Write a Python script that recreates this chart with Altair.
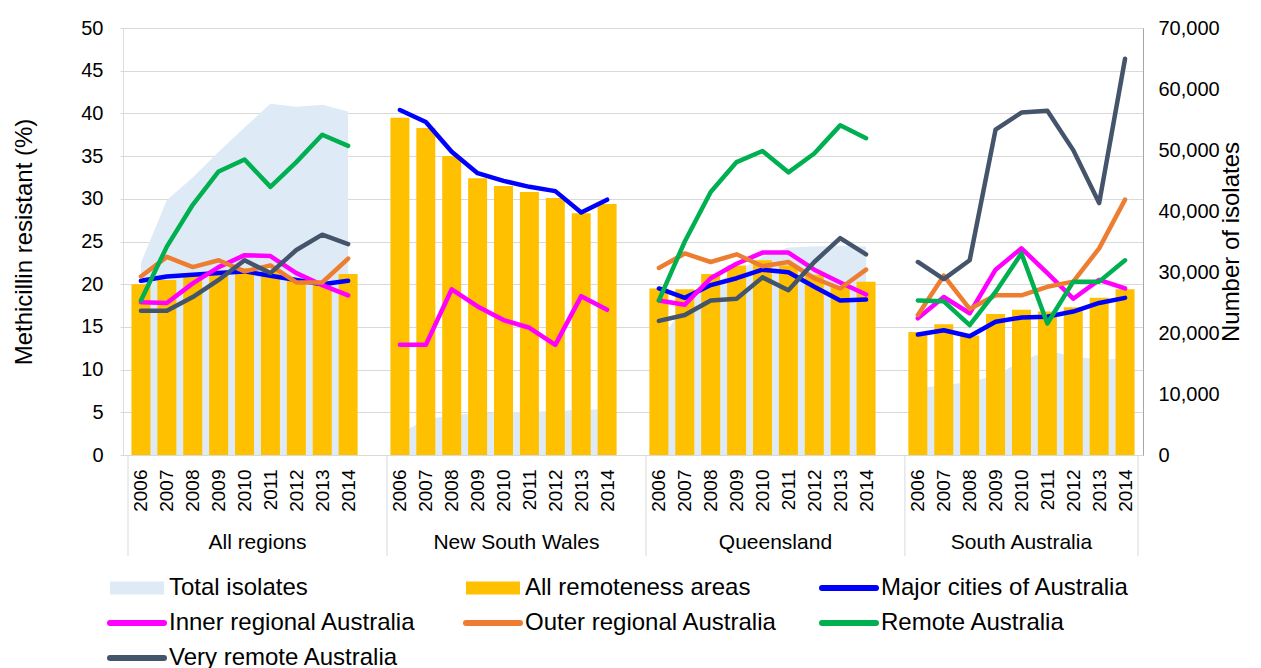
import altair as alt
import pandas as pd

groups = ["All regions", "New South Wales", "Queensland", "South Australia"]
years = [2006, 2007, 2008, 2009, 2010, 2011, 2012, 2013, 2014]

# Total isolates (right axis, number)
total_all = [31500, 41800, 45500, 49700, 53700, 57600, 57100, 57400, 56300]
total_nsw = [3500, 5800, 6500, 6900, 7000, 7100, 7200, 7400, 7500]
total_qld = [18500, 24500, 28000, 30000, 32500, 34000, 34200, 34300, 34200]
total_sa = [11000, 11400, 12000, 13000, 15400, 17100, 16200, 15600, 15800]

# All remoteness areas (bars, %)
allrem_all = [20.0, 20.5, 21.0, 21.6, 21.9, 21.6, 20.6, 19.9, 21.2]
allrem_nsw = [39.5, 38.3, 35.0, 32.4, 31.5, 30.8, 30.1, 28.3, 29.4]
allrem_qld = [19.5, 19.4, 21.2, 22.2, 22.8, 22.2, 21.1, 19.8, 20.3]
allrem_sa = [14.4, 15.3, 14.0, 16.5, 17.0, 16.8, 17.3, 18.4, 19.4]

# Major cities of Australia (%)
major_all = [20.4, 20.9, 21.1, 21.3, 21.5, 21.0, 20.5, 20.0, 20.4]
major_nsw = [40.4, 39.0, 35.5, 33.0, 32.1, 31.4, 30.9, 28.4, 29.9]
major_qld = [19.5, 18.4, 19.9, 20.7, 21.7, 21.4, 19.7, 18.1, 18.2]
major_sa = [14.1, 14.6, 13.9, 15.6, 16.1, 16.2, 16.8, 17.8, 18.4]

# Inner regional Australia (%)
inner_all = [17.9, 17.8, 20.1, 22.0, 23.4, 23.3, 21.3, 19.9, 18.7]
inner_nsw = [12.9, 12.9, 19.4, 17.4, 15.8, 14.9, 12.9, 18.6, 17.0]
inner_qld = [18.1, 17.6, 20.7, 22.4, 23.7, 23.7, 21.7, 20.2, 18.8]
inner_sa = [16.0, 18.5, 16.6, 21.7, 24.2, 21.3, 18.3, 20.5, 19.5]

# Outer regional Australia (%)
outer_all = [20.9, 23.2, 22.0, 22.8, 21.5, 22.2, 20.2, 20.2, 23.0]
outer_qld = [21.9, 23.6, 22.6, 23.5, 22.1, 22.6, 20.7, 19.5, 21.7]
outer_sa = [16.4, 21.0, 17.1, 18.7, 18.7, 19.7, 20.3, 24.2, 29.9]

# Remote Australia (%)
remote_all = [18.1, 24.4, 29.3, 33.2, 34.6, 31.4, 34.3, 37.5, 36.2]
remote_qld = [18.1, 25.0, 30.8, 34.3, 35.6, 33.1, 35.3, 38.6, 37.1]
remote_sa = [18.1, 18.0, 15.2, 19.1, 23.6, 15.4, 20.3, 20.3, 22.8]

# Very remote Australia (%)
vremote_all = [16.9, 16.9, 18.5, 20.5, 22.8, 21.3, 24.0, 25.8, 24.7]
vremote_qld = [15.7, 16.4, 18.1, 18.3, 20.8, 19.3, 22.6, 25.4, 23.5]
vremote_sa = [22.6, 20.6, 22.8, 38.1, 40.1, 40.3, 35.7, 29.5, 46.4]

series_names = ["Total isolates", "All remoteness areas", "Major cities of Australia",
                "Inner regional Australia", "Outer regional Australia",
                "Remote Australia", "Very remote Australia"]
series_colors = ["#DEEBF7", "#FFC000", "#0000FF", "#FF00FF", "#ED7D31", "#00B050", "#44546A"]
series_kinds = ["area", "bar", "line", "line", "line", "line", "line"]

series_lists = {
    "Total isolates": [total_all, total_nsw, total_qld, total_sa],
    "All remoteness areas": [allrem_all, allrem_nsw, allrem_qld, allrem_sa],
    "Major cities of Australia": [major_all, major_nsw, major_qld, major_sa],
    "Inner regional Australia": [inner_all, inner_nsw, inner_qld, inner_sa],
    "Outer regional Australia": [outer_all, None, outer_qld, outer_sa],
    "Remote Australia": [remote_all, None, remote_qld, remote_sa],
    "Very remote Australia": [vremote_all, None, vremote_qld, vremote_sa],
}

n = len(years)
step = n + 1
rows = []
for s in series_names:
    for gi, vals in enumerate(series_lists[s]):
        if vals is None:
            continue
        for yi, (yr, v) in enumerate(zip(years, vals)):
            rows.append({"series": s, "group": groups[gi], "year": yr,
                         "slot": gi * step + yi, "value": v})
df = pd.DataFrame(rows)

# group label centres and dividers (from the group structure)
starts = [gi * step - 0.5 for gi in range(len(groups))]
ends = [gi * step + n - 0.5 + (1 if gi < len(groups) - 1 else 0) for gi in range(len(groups))]
grp_df = pd.DataFrame({"group": groups, "slot": [(a + b) / 2 for a, b in zip(starts, ends)]})
div_df = pd.DataFrame({"slot": starts + [ends[-1]]})

W, H = 1020, 427
FONT = "Liberation Sans"
xmax = ends[-1]
year_slots = sorted(df["slot"].unique().tolist())
labels_js = "[" + ",".join("'%d'" % y for y in years) + "]"

xscale = alt.Scale(domain=[-0.5, xmax], nice=False, zero=False)
xaxis = alt.Axis(values=year_slots, labelExpr=f"{labels_js}[datum.value % {step}]",
                 labelAngle=270, labelFontSize=19, labelPadding=14, tickSize=0,
                 domainColor="#D9D9D9", grid=False, title=None, labelOverlap=False,
                 labelFlush=False, labelBound=False, labelColor="#000000", labelFont=FONT)
X = alt.X("slot:Q", scale=xscale, axis=xaxis)

yl_scale = alt.Scale(domain=[0, 50], nice=False)
yl_axis = alt.Axis(orient="left", values=list(range(0, 51, 5)), title="Methicillin resistant (%)",
                   titleFontSize=24, titleFontWeight="normal", titleFont=FONT, titleColor="#000000",
                   titlePadding=44, labelFontSize=20, labelFont=FONT, labelColor="#000000",
                   labelPadding=17, tickSize=3, tickColor="#D9D9D9", domain=False,
                   grid=True, gridColor="#D9D9D9", gridWidth=1)
yr_scale = alt.Scale(domain=[0, 70000], nice=False)
yr_axis = alt.Axis(orient="right", values=list(range(0, 70001, 10000)), format=",.0f",
                   title="Number of isolates", titleAngle=270, titleBaseline="top",
                   titleFontSize=24, titleFontWeight="normal", titleFont=FONT,
                   titleColor="#000000", titlePadding=0, labelFontSize=20, labelFont=FONT,
                   labelColor="#000000", labelPadding=15, tickSize=0, grid=False,
                   domainColor="#A6A6A6")

base = alt.Chart(df)

area = base.transform_filter(alt.datum.series == "Total isolates").mark_area(
    color=series_colors[0], opacity=1).encode(
    x=X, y=alt.Y("value:Q", scale=yr_scale, axis=yr_axis, stack=None), detail="group:N")

bars = base.transform_filter(alt.datum.series == "All remoteness areas").mark_bar(
    size=19, color=series_colors[1]).encode(
    x=X, y=alt.Y("value:Q", scale=yl_scale, axis=yl_axis))

line_layers = []
for name, color, kind in zip(series_names, series_colors, series_kinds):
    if kind != "line":
        continue
    line_layers.append(
        base.transform_filter(alt.datum.series == name).mark_line(
            color=color, strokeWidth=4.5, strokeJoin="round", strokeCap="round").encode(
            x=X, y=alt.Y("value:Q", scale=yl_scale, axis=yl_axis), detail="group:N"))

dividers = alt.Chart(div_df).mark_rule(color="#D9D9D9", strokeWidth=1).encode(
    x=X, y=alt.value(H), y2=alt.value(H + 101))
glabels = alt.Chart(grp_df).mark_text(fontSize=21, font=FONT, color="#000000",
                                      baseline="middle", align="center").encode(
    x=X, y=alt.value(H + 88), text="group:N")

pct = alt.layer(bars, *line_layers, dividers, glabels)
main = alt.layer(area, pct).resolve_scale(y="independent").properties(width=W, height=H)

# legend (3 columns)
COLW = 356
leg_df = pd.DataFrame({
    "name": series_names,
    "color": series_colors,
    "kind": series_kinds,
    "col": [i % 3 for i in range(len(series_names))],
    "row": [i // 3 for i in range(len(series_names))],
})
lx = alt.Scale(domain=[0, 3], range=[-13, -13 + 3 * COLW])
ly = alt.Scale(domain=[0, 2], range=[0, 70])
leg_base = alt.Chart(leg_df).transform_calculate(x2=f"datum.col + 54/{COLW}")
leg_rect = leg_base.transform_filter(alt.datum.kind != "line").mark_rule(
    strokeWidth=13, strokeCap="butt").encode(
    x=alt.X("col:Q", scale=lx, axis=None), x2="x2:Q",
    y=alt.Y("row:Q", scale=ly, axis=None), color=alt.Color("color:N", scale=None))
leg_line = leg_base.transform_filter(alt.datum.kind == "line").mark_rule(
    strokeWidth=6, strokeCap="round").encode(
    x=alt.X("col:Q", scale=lx, axis=None), x2="x2:Q",
    y=alt.Y("row:Q", scale=ly, axis=None), color=alt.Color("color:N", scale=None))
leg_text = alt.Chart(leg_df).mark_text(align="left", baseline="middle", dx=59, fontSize=24,
                                       font=FONT, color="#000000").encode(
    x=alt.X("col:Q", scale=lx, axis=None), y=alt.Y("row:Q", scale=ly, axis=None), text="name:N")
legend = alt.layer(leg_rect, leg_line, leg_text).properties(
    width=W, height=70, view=alt.ViewBackground(stroke="transparent", strokeWidth=0))

chart = alt.vconcat(main, legend, spacing=19).properties(
    padding={"left": 4, "top": 9, "right": 0, "bottom": 0}
).configure_view(stroke="transparent", strokeWidth=0).configure(font=FONT)

chart.save("out.html", embed_options={"renderer": "svg", "actions": False})
